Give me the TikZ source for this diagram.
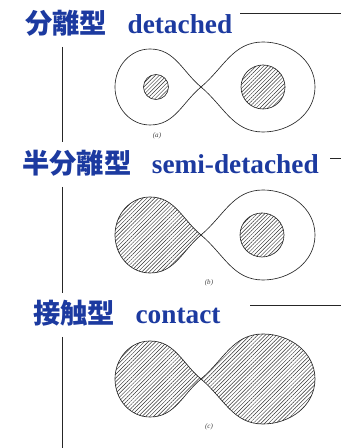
\documentclass[tikz,border=0pt]{standalone}
\usepackage{fontspec}
\setmainfont{Liberation Serif}
\newfontfamily\jpfont{Noto Sans CJK JP}
\usetikzlibrary{patterns.meta}
\definecolor{titleblue}{RGB}{28,58,160}

\begin{document}
\begin{tikzpicture}[x=0.03cm,y=0.03cm,
  lobe/.style={draw=black!85, line width=0.55pt},
  hatch/.style={pattern={Lines[angle=45,distance=2.3pt,line width=0.4pt]}, pattern color=black!80},
  open/.style={},
  title/.style={anchor=base west, inner sep=0pt, text=titleblue, font=\fontsize{23.3}{25}\selectfont\bfseries},
  tag/.style={font=\fontsize{6}{7}\selectfont\itshape, text=black!75},
  rule/.style={line width=0.6pt, draw=black!85}]

  \useasboundingbox[fill=white] (0,0) rectangle (341,448);

  % lobe pairs: left lobe, right lobe, crossing at x=201
  \foreach \y/\lf/\rf in {361/open/open, 213/hatch/open, 69/hatch/hatch} {
    \path[lobe,\lf] (201,\y) to[out=140,in=0] (150,\y+38) to[out=180,in=90] (115,\y)
      to[out=270,in=180] (150,\y-38) to[out=0,in=220] (201,\y);
    \path[lobe,\rf] (201,\y) to[out=40,in=180] (263,\y+45) to[out=0,in=90] (315,\y)
      to[out=270,in=0] (263,\y-45) to[out=180,in=-40] (201,\y);
  }

  % stars inside the lobes
  \draw[lobe,hatch] (156,361) circle (12.5);
  \draw[lobe,hatch] (263,361) circle (22);
  \draw[lobe,hatch] (262,213) circle (22);

  % titles
  \node[title] (ta) at (25,414) {{\jpfont 分離型}\hspace{0.75em}detached};
  \node[title] (tb) at (22,274) {{\jpfont 半分離型}\hspace{0.75em}semi-detached};
  \node[title] (tc) at (33,124) {{\jpfont 接触型}\hspace{0.75em}contact};

  \node[tag] (la) at (157,312) {(a)};
  \node[tag] (lb) at (209,165) {(b)};
  \node[tag] (lc) at (209,21) {(c)};

  % page rules
  \draw[rule] (240,435) -- (341,435);
  \draw[rule] (330,290) -- (341,290);
  \draw[rule] (250,143) -- (341,143);
  \draw[rule] (62,401) -- (62,306);
  \draw[rule] (62,261) -- (62,155);
  \draw[rule] (62,111) -- (62,0);
\end{tikzpicture}
\end{document}
